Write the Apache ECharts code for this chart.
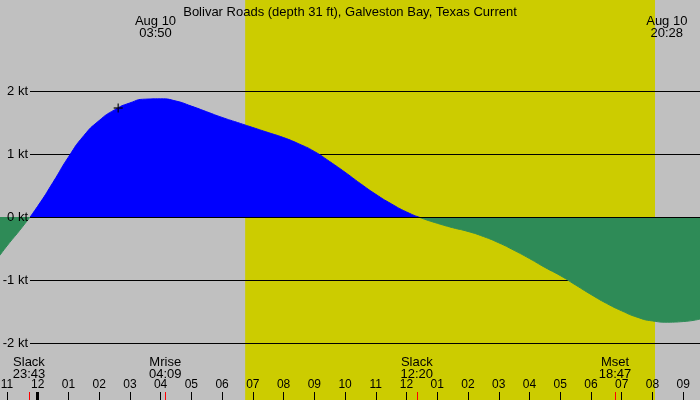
<!DOCTYPE html>
<html>
<head>
<meta charset="utf-8">
<script src="https://cdn.jsdelivr.net/npm/echarts@6/dist/echarts.min.js"></script>
<style>
html,body{margin:0;padding:0;background:#c0c0c0;}
#chart{width:700px;height:400px;}
</style>
</head>
<body>
<div id="chart"></div>
<script>
// ---- data (hours relative to midnight, Aug 10) ----
const titleText = 'Bolivar Roads (depth 31 ft), Galveston Bay, Texas Current';
const hours  = [-1.23, -1.0, -0.5, 0.0, 0.5, 1.0, 1.5, 2.0, 2.5, 3.0, 3.5, 4.0, 4.5, 5.0, 5.5, 6.0, 6.5, 7.0, 7.5, 8.0, 8.5, 9.0, 9.5, 10.0, 10.5, 11.0, 11.5, 12.0, 12.5, 13.0, 13.5, 14.0, 14.5, 15.0, 15.5, 16.0, 16.5, 17.0, 17.5, 18.0, 18.5, 19.0, 19.5, 20.0, 20.5, 21.0, 21.55];
const speeds = [-0.61, -0.46, -0.16, 0.17, 0.55, 0.95, 1.29, 1.53, 1.70, 1.81, 1.87, 1.875, 1.84, 1.76, 1.67, 1.58, 1.50, 1.42, 1.34, 1.26, 1.16, 1.04, 0.88, 0.71, 0.53, 0.36, 0.21, 0.08, -0.02, -0.10, -0.17, -0.23, -0.31, -0.41, -0.53, -0.66, -0.80, -0.93, -1.08, -1.23, -1.37, -1.49, -1.59, -1.65, -1.67, -1.66, -1.62];
const ktLevels = [-2, -1, 0, 1, 2];
const daylight = [6.75, 20.083];            // sunrise, sunset
const peakTimes = [3.833, 20.467];
const peakLabels = ['Aug 10\n03:50', 'Aug 10\n20:28'];
const eventTimes = [-0.283, 4.15, 12.333, 18.783];
const eventNames = ['Slack', 'Mrise', 'Slack', 'Mset'];
const eventClock = ['23:43', '04:09', '12:20', '18:47'];
const midnightTimes = [0];
const nowPoint = [2.62, 1.73];

const FONT = 'Liberation Sans, Arial, sans-serif';
const curve = hours.map((h, i) => [h, speeds[i]]);
const ktMin = ktLevels[0], ktMax = ktLevels[ktLevels.length - 1];

const ktAxisBase = {
  type: 'value', gridIndex: 1, min: ktMin, max: ktMax, interval: 1,
  axisLine: {show: false, onZero: false}, axisTick: {show: false}
};

const chart = echarts.init(document.getElementById('chart'), null, {renderer: 'canvas'});
chart.setOption({
  animation: false,
  backgroundColor: '#c0c0c0',
  title: {
    text: titleText, left: 'center', top: 1,
    textStyle: {fontFamily: FONT, fontSize: 13, fontWeight: 'normal', color: '#000'}
  },
  grid: [
    {left: -23.82, right: -13.94, top: 0, bottom: 0, outerBoundsMode: 'none', containLabel: false},
    {left: 30, right: 0, top: 91, bottom: 57, outerBoundsMode: 'none', containLabel: false}
  ],
  xAxis: [
    {
      type: 'value', gridIndex: 0, min: -2, max: 22, interval: 1, position: 'bottom', z: 1.5,
      axisLine: {show: false, onZero: false},
      axisTick: {show: true, inside: true, length: 8, lineStyle: {color: '#000', width: 1}},
      axisLabel: {
        show: true, inside: true, margin: 9, interval: 0, hideOverlap: false,
        fontFamily: FONT, fontSize: 12, color: '#000',
        formatter: v => { let h = ((v % 12) + 12) % 12; if (h === 0) h = 12; return String(h).padStart(2, '0'); }
      },
      splitLine: {show: false}
    },
    {type: 'value', gridIndex: 1, min: 0, max: 1, show: false, axisLine: {onZero: false}}
  ],
  yAxis: [
    {type: 'value', gridIndex: 0, min: -2.905, max: 3.444, show: false, splitLine: {show: false}},
    Object.assign({}, ktAxisBase, {
      z: 1.5, position: 'left',
      axisLabel: {show: false},
      splitLine: {show: true, lineStyle: {color: '#000', width: 1}}
    }),
    Object.assign({}, ktAxisBase, {
      z: 6, position: 'left', offset: 0,
      axisLabel: {margin: 2, fontFamily: FONT, fontSize: 13, color: '#000', formatter: '{value} kt'},
      splitLine: {show: false}
    })
  ],
  visualMap: {
    show: false, type: 'piecewise', seriesIndex: 0, dimension: 1,
    pieces: [{gte: -10, lt: 0, color: '#2e8b57'}, {gte: 0, lte: 10, color: '#0000ff'}]
  },
  series: [
    {
      type: 'line', xAxisIndex: 0, yAxisIndex: 0, z: 2,
      data: curve, smooth: 0.6, showSymbol: false, silent: true,
      lineStyle: {width: 1},
      areaStyle: {opacity: 1, origin: 0},
      markLine: {
        silent: true, symbol: 'none', label: {show: false},
        lineStyle: {color: '#000', width: 1, type: 'solid'},
        data: [[{x: 30, yAxis: 0}, {x: 700, yAxis: 0}]]
      }
    },
    {
      type: 'scatter', xAxisIndex: 0, yAxisIndex: 0, z: 4, silent: true,
      data: [nowPoint],
      symbol: 'path://M3.8,0H5.2V3.8H9V5.2H5.2V9H3.8V5.2H0V3.8H3.8Z', symbolSize: 9,
      itemStyle: {color: '#000'},
      markArea: {
        silent: true, z: 1,
        itemStyle: {color: '#cccc00', opacity: 1},
        data: [[{xAxis: daylight[0], yAxis: -2.905}, {xAxis: daylight[1], yAxis: 3.444}]]
      },
      markLine: {
        silent: true, symbol: 'none', label: {show: false},
        data: eventTimes.map(t => [
          {xAxis: t, y: 392, lineStyle: {color: '#ff0000', width: 1, type: 'solid'}},
          {xAxis: t, y: 400}
        ]).concat(midnightTimes.map(t => [
          {xAxis: t, y: 392, lineStyle: {color: '#000', width: 3, type: 'solid'}},
          {xAxis: t, y: 400}
        ]))
      },
      markPoint: {
        silent: true, symbol: 'circle', symbolSize: 0,
        itemStyle: {color: 'transparent'},
        data: eventTimes.map((t, i) => ({
          xAxis: t, y: 380, name: eventNames[i] + '\n' + eventClock[i],
          label: {show: true, position: 'top', distance: 0, formatter: '{b}', fontFamily: FONT, fontSize: 13, lineHeight: 12, color: '#000', align: 'center'}
        })).concat(peakTimes.map((t, i) => ({
          xAxis: t, y: 15, name: peakLabels[i],
          label: {show: true, position: 'bottom', distance: 0, formatter: '{b}', fontFamily: FONT, fontSize: 13, lineHeight: 12, color: '#000', align: 'center'}
        })))
      }
    }
  ]
});
</script>
</body>
</html>
